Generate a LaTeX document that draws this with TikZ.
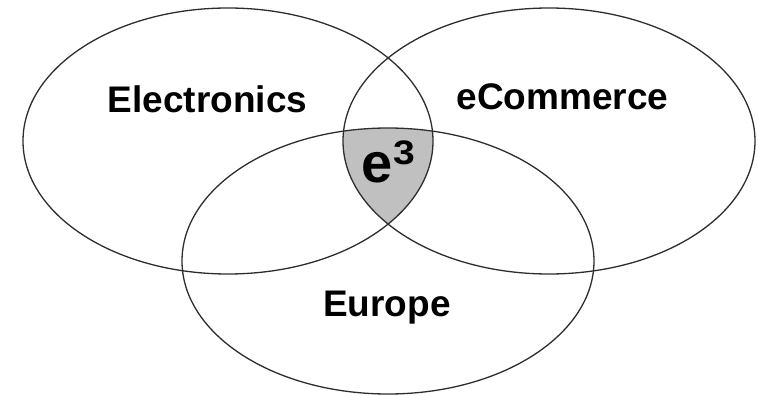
\documentclass[tikz,border=0pt]{standalone}
\usepackage{fontspec}
\setmainfont{Liberation Sans}
\definecolor{ringline}{RGB}{45,45,45}
\definecolor{coreshade}{RGB}{192,192,192}
\begin{document}
\begin{tikzpicture}[x=1pt,y=-1pt,
  ring/.style={draw=ringline, line width=1.3pt},
  biglabel/.style={font=\bfseries\fontsize{37}{40}\selectfont, inner sep=0pt, anchor=base}]
\useasboundingbox (0,0) rectangle (758,396);
% shaded triple intersection
\begin{scope}
  \clip (228,141) ellipse [x radius=205pt, y radius=133pt];
  \clip (549,141) ellipse [x radius=206pt, y radius=133pt];
  \fill[coreshade] (388,261) ellipse [x radius=206pt, y radius=133pt];
\end{scope}
\draw[ring] (228,141) ellipse [x radius=205pt, y radius=133pt];
\draw[ring] (549,141) ellipse [x radius=206pt, y radius=133pt];
\draw[ring] (388,261) ellipse [x radius=206pt, y radius=133pt];
\node[biglabel] (elec) at (207.5,112) {Electronics};
\node[biglabel] (ecom) at (562.5,110) {eCommerce};
\node[biglabel] (euro) at (387,316) {Europe};
\node[inner sep=0pt, anchor=base west, font=\bfseries\fontsize{56}{56}\selectfont] (e) at (361,182) {e};
\node[inner sep=0pt, anchor=base west] (three) at (393,164)
  {\scalebox{1.15}[1]{\bfseries\fontsize{34}{34}\selectfont 3}};
\end{tikzpicture}
\end{document}
